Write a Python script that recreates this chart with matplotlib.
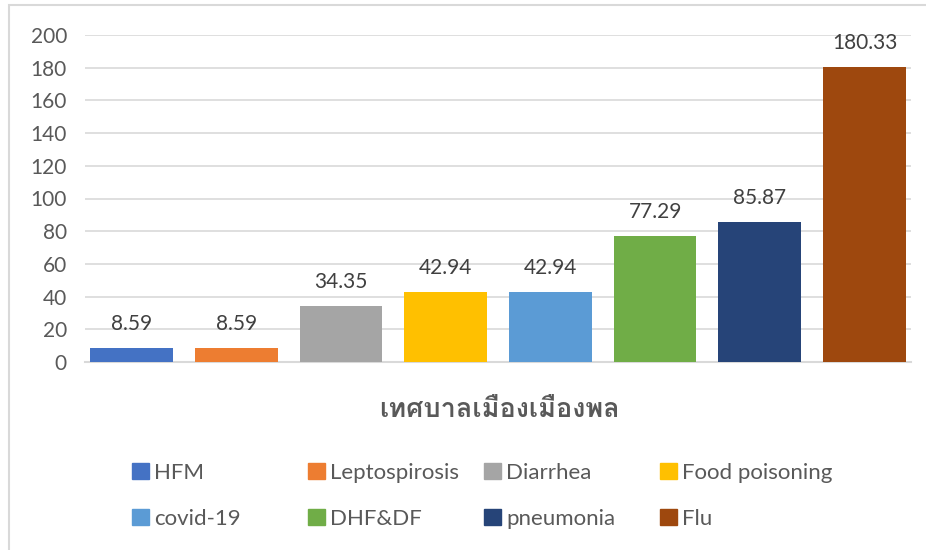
import matplotlib
matplotlib.use("Agg")
import matplotlib.pyplot as plt
from matplotlib.patches import Patch, Rectangle

categories = ["HFM", "Leptospirosis", "Diarrhea", "Food poisoning",
              "covid-19", "DHF&DF", "pneumonia", "Flu"]
values = [8.59, 8.59, 34.35, 42.94, 42.94, 77.29, 85.87, 180.33]
colors = ["#4472C4", "#ED7D31", "#A5A5A5", "#FFC000",
          "#5B9BD5", "#70AD47", "#264478", "#9E480E"]
yticks = [0, 20, 40, 60, 80, 100, 120, 140, 160, 180, 200]
xlabel = "เทศบาลเมืองเมืองพล"

plt.rcParams["font.family"] = ["Lato", "DejaVu Sans"]
txt = "#595959"
fs = 15

W, H = 926, 550
fig = plt.figure(figsize=(W / 100, H / 100), dpi=100)
ax = fig.add_axes([85 / W, 1 - 362 / H, (911 - 85) / W, (362 - 35) / H])

x = range(len(values))
bars = ax.bar(x, values, width=0.79, color=colors, zorder=3)
for b, v in zip(bars, values):
    ax.annotate(f"{v:.2f}", (b.get_x() + b.get_width() / 2, v),
                xytext=(0, 10), textcoords="offset points",
                ha="center", va="bottom", fontsize=fs, color="#404040")

ax.set_xlim(-0.443, 7.443)
ax.set_ylim(0, 200)
ax.set_yticks(yticks)
ax.set_xticks([])
ax.tick_params(axis="y", length=0, pad=13, labelsize=fs, labelcolor=txt)
ax.grid(axis="y", color="#d9d9d9", linewidth=1.2, zorder=0)
for s in ["top", "right", "left"]:
    ax.spines[s].set_visible(False)
ax.spines["bottom"].set_color("#d9d9d9")
ax.spines["bottom"].set_linewidth(1.5)

fig.text(499 / W, 1 - 410 / H, xlabel, ha="center", va="center",
         fontsize=19.5, fontweight="bold", color=txt,
         family=["Loma", "Lato", "DejaVu Sans"])

# legend: four equal columns, two rows each
col_x = [132, 308, 484, 660]
for c in range(4):
    idx = [c, c + 4]
    handles = [Patch(color=colors[i]) for i in idx]
    fig.legend(handles, [categories[i] for i in idx],
               loc="upper left", bbox_to_anchor=(col_x[c] / W, 1 - 463 / H),
               frameon=False, fontsize=16, labelcolor=txt,
               handlelength=0.75, handleheight=0.75, handletextpad=0.25,
               labelspacing=1.15, borderpad=0, borderaxespad=0)

fig.patches.append(Rectangle((9 / W, -0.1), 1.2, 1 - 5 / H + 0.1,
                             transform=fig.transFigure, fill=False,
                             edgecolor="#d9d9d9", linewidth=1.5))

fig.savefig("out.png", dpi=100)
